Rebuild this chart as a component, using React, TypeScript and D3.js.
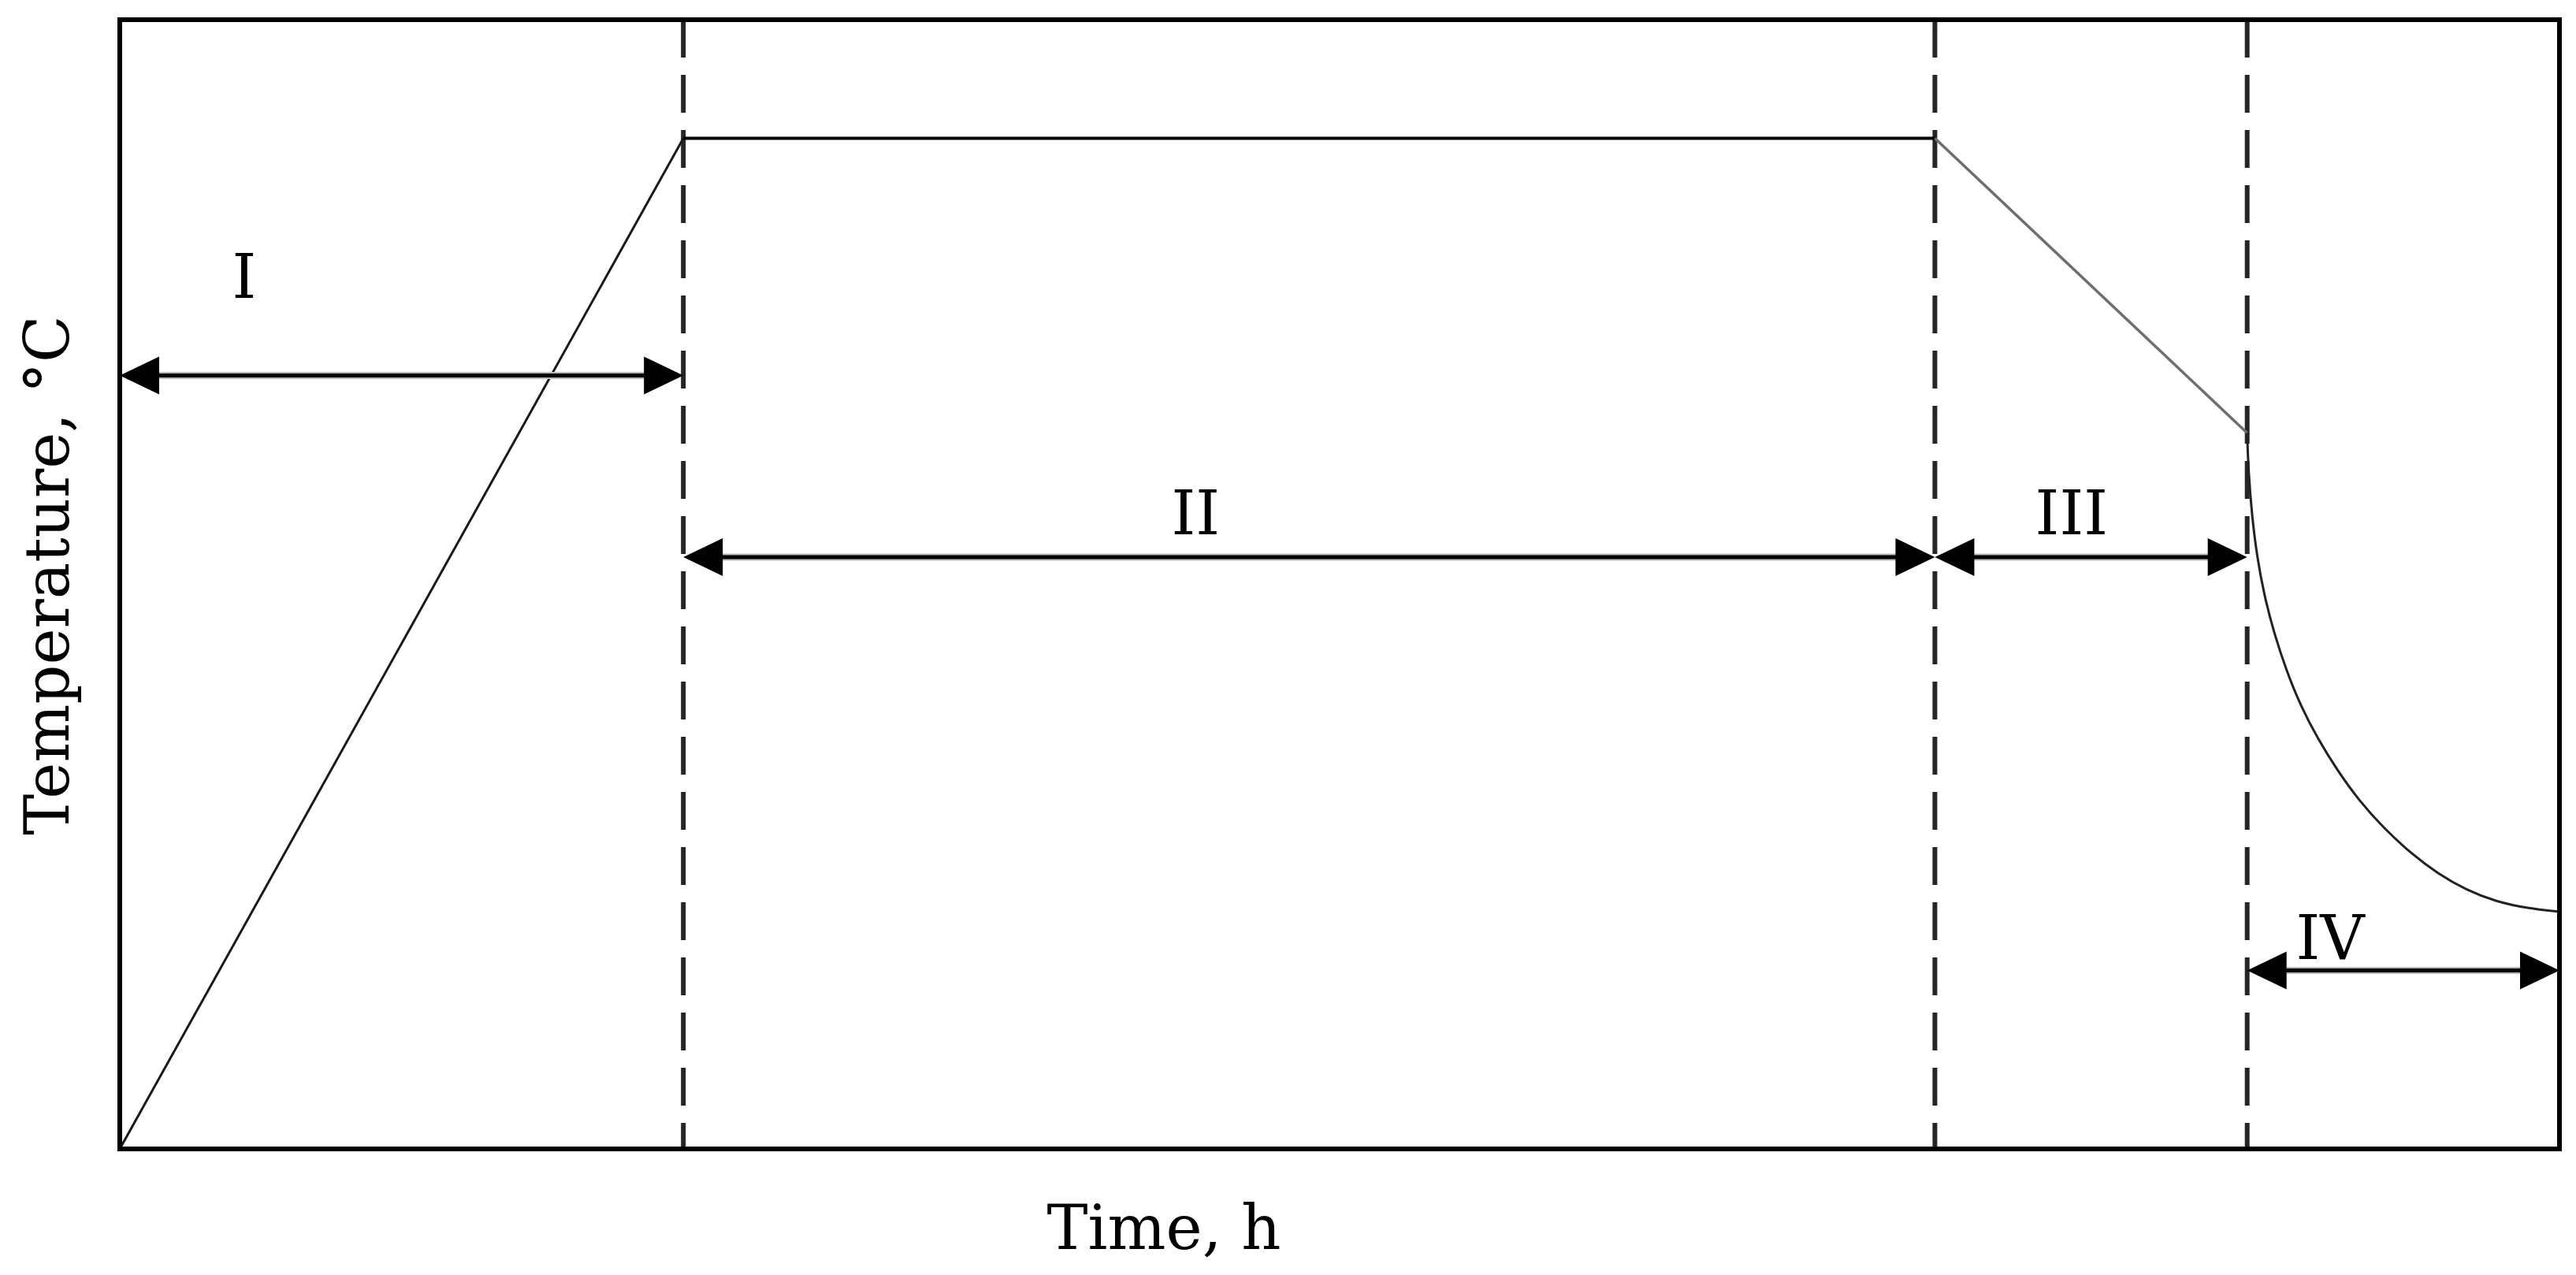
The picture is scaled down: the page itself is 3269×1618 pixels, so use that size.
import React from 'react';
import * as d3 from 'd3';

// stage boundaries along time axis (arbitrary units 0..100)
const stageBounds = [0, 23.1, 74.4, 87.2, 100];
const stageNames = ['I', 'II', 'III', 'IV'];
// arrow heights and label positions per stage (temperature units 0..100)
const arrowLevels = [68.5, 52.4, 52.4, 15.8];
const labelX = [5.1, 44.1, 80.0, 90.6];
const labelY = [75.4, 54.4, 54.4, 16.8];

// temperature profile
const heatTime = [0, 23.1];
const heatTemp = [0, 89.5];
const holdTime = [23.1, 74.4];
const holdTemp = [89.5, 89.5];
const coolTime = [74.4, 87.2];
const coolTemp = [89.5, 63.4];
const quenchTime = [87.2, 87.25, 87.4, 87.6, 87.9, 88.3, 88.8, 89.4, 90.1, 90.9, 91.8, 92.8, 93.9, 95.0, 96.2, 97.4, 98.7, 100];
const quenchTemp = [63.4, 60.0, 56.0, 52.5, 49.0, 45.7, 42.4, 39.2, 36.3, 33.5, 30.8, 28.4, 26.2, 24.4, 22.9, 21.9, 21.3, 21.0];

const W = 3269;
const H = 1618;
const margin = { top: 25, right: 21, bottom: 160, left: 152 };
const FONT = '"DejaVu Serif", serif';

const zip = (xs: number[], ys: number[]) => xs.map((x, i) => [x, ys[i]] as [number, number]);

export default function App() {
  const x = d3.scaleLinear().domain([0, 100]).range([margin.left, W - margin.right]);
  const y = d3.scaleLinear().domain([0, 100]).range([H - margin.bottom, margin.top]);

  const line = d3.line<[number, number]>().x(d => x(d[0])).y(d => y(d[1]));
  const curve = d3.line<[number, number]>().x(d => x(d[0])).y(d => y(d[1])).curve(d3.curveBasis);

  const headLen = 50;
  const headHalf = 24;

  const arrows = stageNames.map((name, i) => {
    const x1 = x(stageBounds[i]);
    const x2 = x(stageBounds[i + 1]);
    const yy = y(arrowLevels[i]);
    return (
      <g key={name}>
        <line x1={x1 + headLen - 2} x2={x2 - headLen + 2} y1={yy} y2={yy} stroke="#bbb" strokeWidth={9} />
        <line x1={x1 + headLen - 2} x2={x2 - headLen + 2} y1={yy} y2={yy} stroke="#000" strokeWidth={5} />
        <path d={`M${x1},${yy}L${x1 + headLen},${yy - headHalf}L${x1 + headLen},${yy + headHalf}Z`} fill="#000" />
        <path d={`M${x2},${yy}L${x2 - headLen},${yy - headHalf}L${x2 - headLen},${yy + headHalf}Z`} fill="#000" />
        <text x={x(labelX[i])} y={y(labelY[i])} textAnchor="middle" fontFamily={FONT} fontSize={78} fill="#000">
          {name}
        </text>
      </g>
    );
  });

  return (
    <svg width={W} height={H} style={{ position: 'absolute', left: 0, top: 0, background: '#fff' }}>
      {/* stage separators */}
      {stageBounds.slice(1, -1).map(b => (
        <line key={b} x1={x(b)} x2={x(b)} y1={y(100)} y2={y(0)} stroke="#262626" strokeWidth={6} strokeDasharray="48 22" />
      ))}

      {/* temperature curve */}
      <path d={line(zip(heatTime, heatTemp)) || ''} fill="none" stroke="#1a1a1a" strokeWidth={3} />
      <path d={line(zip(holdTime, holdTemp)) || ''} fill="none" stroke="#000" strokeWidth={4} />
      <path d={line(zip(coolTime, coolTemp)) || ''} fill="none" stroke="#6e6e6e" strokeWidth={3.5} />
      <path d={curve(zip(quenchTime, quenchTemp)) || ''} fill="none" stroke="#222" strokeWidth={3} />

      {arrows}

      {/* frame */}
      <rect x={x(0)} y={y(100)} width={x(100) - x(0)} height={y(0) - y(100)} fill="none" stroke="#000" strokeWidth={6} />

      {/* axis titles */}
      <text x={1477} y={1585} textAnchor="middle" fontFamily={FONT} fontSize={78} fill="#000">
        Time, h
      </text>
      <text transform="translate(87,730) rotate(-90)" textAnchor="middle" fontFamily={FONT} fontSize={78} fill="#000">
        Temperature, °C
      </text>
    </svg>
  );
}
